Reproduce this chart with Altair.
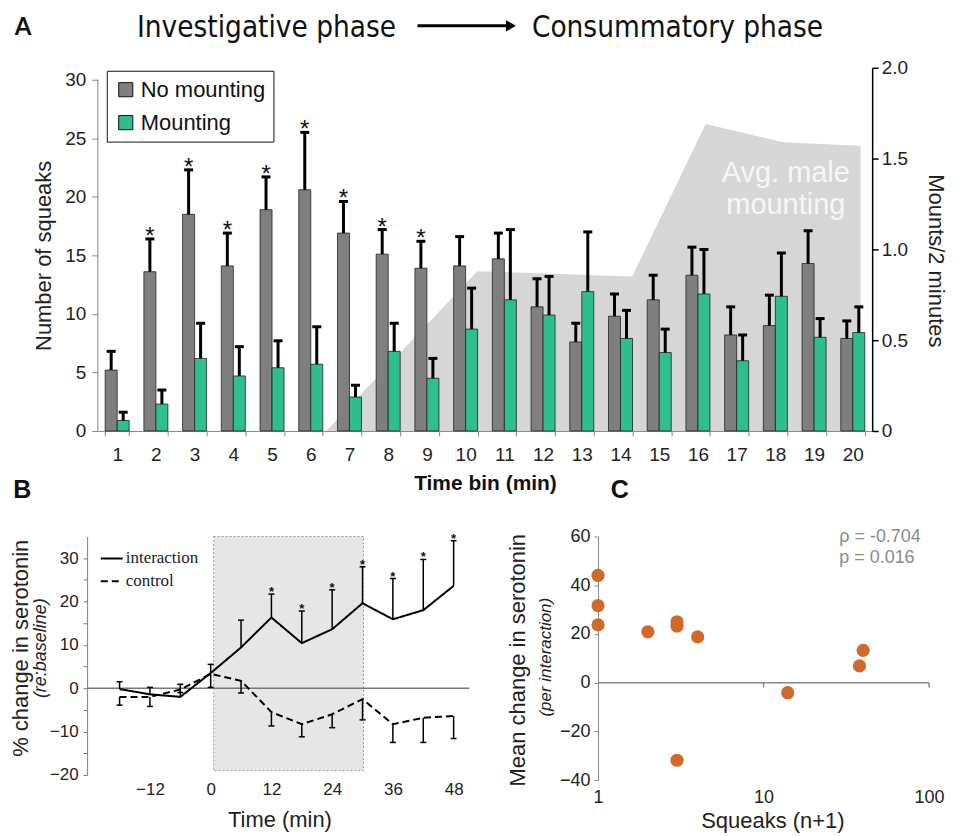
import altair as alt
import pandas as pd

# ---------------- Panel A : squeaks per time bin ----------------
time_bins = list(range(1, 21))
no_mounting = [5.2, 13.6, 18.5, 14.1, 18.9, 20.6, 16.9, 15.1, 13.9, 14.1,
               14.7, 10.6, 7.6, 9.8, 11.2, 13.3, 8.2, 9.0, 14.3, 7.9]
no_mounting_err = [6.8, 16.4, 22.3, 16.9, 21.7, 25.5, 19.6, 17.2, 16.2, 16.6,
                   16.9, 13.0, 9.2, 11.7, 13.3, 15.7, 10.6, 11.6, 17.1, 9.4]
mounting = [0.9, 2.3, 6.2, 4.7, 5.4, 5.7, 2.9, 6.8, 4.5, 8.7,
            11.2, 9.9, 11.9, 7.9, 6.7, 11.7, 6.0, 11.5, 8.0, 8.4]
mounting_err = [1.6, 3.5, 9.2, 7.2, 7.7, 8.9, 3.9, 9.2, 6.2, 12.2,
                17.2, 13.2, 17.0, 10.3, 8.7, 15.5, 8.2, 15.2, 9.6, 10.6]
significant_bins = [2, 3, 4, 5, 6, 7, 8, 9]
groups = ["No mounting", "Mounting"]
group_colors = ["#7f7f7f", "#2fbf8e"]

# average male mounting (right axis, mounts / 2 minutes)
mount_rate_bin = [6.4, 10.3, 14.3, 16.2, 18.2, 20.2]
mount_rate = [0.0, 0.88, 0.85, 1.69, 1.59, 1.57]

# ---------------- Panel B : serotonin over time ----------------
time_min = [-18, -12, -6, 0, 6, 12, 18, 24, 30, 36, 42, 48]
interaction = [-0.2, -1.4, -2.0, 3.5, 9.4, 16.3, 10.4, 13.6, 19.6, 15.9, 18.0, 23.6]
interaction_err = [1.5, 0.2, 0.9, 5.5, 15.7, 21.7, 17.8, 22.7, 28.0, 25.3, 29.7, 34.0]
control = [-2.0, -2.0, -0.3, 3.3, 1.7, -5.5, -8.3, -6.0, -2.5, -8.3, -6.8, -6.4]
control_err = [-3.9, -4.2, -1.0, 0.2, -1.1, -8.7, -11.2, -9.1, -7.3, -12.5, -12.5, -11.6]
significant_times = [12, 18, 24, 30, 36, 42, 48]
interaction_window = [0.6, 30.2]
series_names = ["interaction", "control"]

# ---------------- Panel C : serotonin vs squeaks ----------------
squeaks = [1, 1, 1, 2, 3, 3, 4, 3, 14, 40, 38]
serotonin_change = [44.0, 31.6, 23.7, 20.9, 25.0, 23.2, 18.8, -31.8, -4.1, 13.3, 6.9]

FONT = "Liberation Sans"
TITLE_FONT = "DejaVu Sans Condensed"
TXT = "#222222"

# ======================= Panel A =======================
WA, HA = 776, 364
rowsA = []
for i, b in enumerate(time_bins):
    rowsA.append(dict(bin=b, group=groups[0], value=no_mounting[i],
                      err=no_mounting_err[i], sig=b in significant_bins))
    rowsA.append(dict(bin=b, group=groups[1], value=mounting[i],
                      err=mounting_err[i], sig=False))
dfA = pd.DataFrame(rowsA)

xA = alt.X("bin:O", title="Time bin (min)",
           scale=alt.Scale(paddingInner=0.38, paddingOuter=0.19),
           axis=alt.Axis(labelAngle=0, labelFontSize=19, tickBand="extent", tickSize=5,
                         tickColor="#888", domainColor="#888", labelPadding=10,
                         titleFontSize=21, titleFontWeight="bold", titlePadding=8,
                         labelColor=TXT, titleColor="#111"))
xoffA = alt.XOffset("group:N", sort=groups, scale=alt.Scale(paddingInner=0, paddingOuter=0))
yA_scale = alt.Scale(domain=[0, 31.02], nice=False)
yA_axis = alt.Axis(orient="left", values=[0, 5, 10, 15, 20, 25, 30], domain=False,
                   tickColor="#888", tickSize=6, labelFontSize=19, labelPadding=6,
                   labelColor=TXT, titleFontSize=22, titleFontWeight="normal",
                   titleColor=TXT, titleX=-54, titleY=188, titleBaseline="middle")


def yA(field):
    return alt.Y(field, scale=yA_scale, axis=yA_axis, title="Number of squeaks")


left_line = alt.Chart(pd.DataFrame({"a0": [0], "a1": [30]})).mark_rule(
    color="#888", strokeWidth=1).encode(x=alt.value(0), y=yA("a0:Q"), y2="a1:Q")

bars = alt.Chart(dfA).mark_bar(stroke="#222", strokeWidth=0.8).encode(
    x=xA, xOffset=xoffA, y=yA("value:Q"),
    color=alt.Color("group:N", scale=alt.Scale(domain=groups, range=group_colors),
                    legend=alt.Legend(title=None, orient="none", legendX=9, legendY=3,
                                      symbolType="square", symbolSize=200,
                                      symbolStrokeColor="#111", symbolStrokeWidth=1,
                                      labelFontSize=22, labelFont=FONT, labelColor="#111",
                                      strokeColor="#111", fillColor="white",
                                      padding=8, rowPadding=11, labelOffset=4,
                                      symbolOpacity=1)))
err_rules = alt.Chart(dfA).mark_rule(color="black", strokeWidth=3).encode(
    x=xA, xOffset=xoffA, y=yA("value:Q"), y2="err:Q")
err_caps = alt.Chart(dfA).mark_tick(orient="horizontal", color="black", thickness=3,
                                    size=9, opacity=1).encode(
    x=xA, xOffset=xoffA, y=yA("err:Q"))
stars = alt.Chart(dfA).transform_filter("datum.sig").mark_text(
    text="*", font=FONT, fontSize=24, baseline="alphabetic", dy=5, color="#111").encode(
    x=xA, xOffset=xoffA, y=yA("err:Q"))
bar_layer = alt.layer(left_line, bars, err_rules, err_caps, stars)

xArea = alt.X("pos:Q", scale=alt.Scale(domain=[0.5, 20.5], nice=False, zero=False), axis=None)
yArea_axis = alt.Axis(orient="right", values=[0, 0.5, 1, 1.5, 2],
                      labelExpr="datum.value == 0 ? '0' : format(datum.value, '.1f')",
                      domainColor="black", tickColor="black", domainWidth=1.5, tickWidth=1.5,
                      tickSize=6, labelFontSize=19, labelPadding=3, labelColor=TXT,
                      titleFontSize=22, titleFontWeight="normal", titleColor=TXT,
                      titleAngle=90, titleX=63, titleY=193, titleBaseline="middle")


def yArea(field):
    return alt.Y(field, scale=alt.Scale(domain=[0, 2], nice=False), axis=yArea_axis,
                 title="Mounts/2 minutes")


area = alt.Chart(pd.DataFrame({"pos": mount_rate_bin, "rate": mount_rate})).mark_area(
    color="#d6d6d6", opacity=1, interpolate="linear").encode(x=xArea, y=yArea("rate:Q"))
area_text = alt.Chart(pd.DataFrame({"pos": [18.27], "rate": [1.373]})).mark_text(
    text=["Avg. male", "mounting"], font=FONT, fontSize=29, lineHeight=32,
    color="#f6f6f6", baseline="alphabetic", align="center").encode(
    x=xArea, y=yArea("rate:Q"))
area_layer = alt.layer(area, area_text)

one = pd.DataFrame({"k": [0]})
# invisible layout anchor pinning the page's top-left corner
anchor = alt.Chart(one).mark_rule(strokeOpacity=0, strokeWidth=1).encode(
    x=alt.value(-89.2), x2=alt.value(-80), y=alt.value(-58.5))
labA = alt.Chart(one).mark_text(text="A", font="Lato", fontWeight="bold", fontSize=24,
                                 align="center", baseline="middle", color="#111").encode(
    x=alt.value(-75), y=alt.value(-40))
t1 = alt.Chart(one).mark_text(text="Investigative phase", font=TITLE_FONT, fontSize=29.5,
                              align="left", baseline="alphabetic", color="#111").encode(
    x=alt.value(39.3), y=alt.value(-31))
t2 = alt.Chart(one).mark_text(text="Consummatory phase", font=TITLE_FONT, fontSize=29.5,
                              align="left", baseline="alphabetic", color="#111").encode(
    x=alt.value(435), y=alt.value(-31))
arrow_line = alt.Chart(one).mark_rule(color="black", strokeWidth=3).encode(
    x=alt.value(320.3), x2=alt.value(410), y=alt.value(-42))
arrow_head = alt.Chart(one).mark_point(shape="triangle-right", filled=True, color="black",
                                       size=130, opacity=1).encode(
    x=alt.value(414), y=alt.value(-42))
titles_A = alt.layer(anchor, labA, t1, t2, arrow_line, arrow_head)

chartA = alt.layer(area_layer, bar_layer, titles_A).resolve_scale(
    x="independent", y="independent").properties(width=WA, height=HA)

# ======================= Panel B =======================
WB, HB = 372.3, 239
rowsB = []
for i, t in enumerate(time_min):
    rowsB.append(dict(time=t, series="interaction", value=interaction[i],
                      err=interaction_err[i], sig=t in significant_times))
    rowsB.append(dict(time=t, series="control", value=control[i],
                      err=control_err[i], sig=False))
dfB = pd.DataFrame(rowsB)

xB_scale = alt.Scale(domain=[-22.3, 51.1], nice=False, zero=False)
xB_axis = alt.Axis(values=[-12, 0, 12, 24, 36, 48], domain=False, ticks=False,
                   labelFontSize=17, labelPadding=7, labelColor=TXT, labelFlush=False,
                   titleFontSize=22, titleFontWeight="normal", titleColor=TXT,
                   titleX=182, titleY=45, titleBaseline="middle")
yB_scale = alt.Scale(domain=[-20, 35], nice=False)
yB_axis = alt.Axis(values=list(range(-20, 31, 5)),
                   labelExpr="datum.value % 10 == 0 ? datum.label : ''",
                   offset=10.7, tickSize=4, tickColor="#777", domainColor="#777",
                   labelFontSize=17, labelPadding=5, labelColor=TXT)


def xB(field):
    return alt.X(field, scale=xB_scale, axis=xB_axis, title="Time (min)")


def yB(field):
    return alt.Y(field, scale=yB_scale, axis=yB_axis, title=None)


shade = alt.Chart(pd.DataFrame({"t0": [interaction_window[0]], "t1": [interaction_window[1]],
                                "v0": [-19], "v1": [35]})).mark_rect(
    fill="#e6e6e6", stroke="#9a9a9a", strokeDash=[2, 2], strokeWidth=1).encode(
    x=xB("t0:Q"), x2="t1:Q", y=yB("v0:Q"), y2="v1:Q")
zero_B = alt.Chart(pd.DataFrame({"z": [0]})).mark_rule(color="#777", strokeWidth=1.5).encode(
    y=yB("z:Q"), x=alt.value(-10.7), x2=alt.value(WB))
lines_B = alt.Chart(dfB).mark_line(color="black", strokeWidth=2).encode(
    x=xB("time:Q"), y=yB("value:Q"),
    strokeDash=alt.StrokeDash("series:N",
                              scale=alt.Scale(domain=series_names, range=[[1, 0], [7, 4]]),
                              legend=alt.Legend(title=None, orient="none", legendX=2, legendY=10,
                                                symbolType="stroke", symbolSize=484,
                                                symbolStrokeWidth=2, symbolStrokeColor="black",
                                                labelFont="Liberation Serif", labelFontSize=17,
                                                labelColor="#222", rowPadding=3, labelOffset=2,
                                                padding=0)))
err_B = alt.Chart(dfB).mark_rule(color="black", strokeWidth=1.5).encode(
    x=xB("time:Q"), y=yB("value:Q"), y2="err:Q")
caps_B = alt.Chart(dfB).mark_tick(orient="horizontal", color="black", thickness=1.5,
                                  size=6, opacity=1).encode(x=xB("time:Q"), y=yB("err:Q"))
stars_B = alt.Chart(dfB).transform_filter("datum.sig").mark_text(
    text="*", font=FONT, fontSize=13, fontWeight="bold", baseline="alphabetic", dy=2,
    color="#111").encode(x=xB("time:Q"), y=yB("err:Q"))
labB = alt.Chart(one).mark_text(text="B", font=FONT, fontWeight="bold", fontSize=25,
                                 align="center", baseline="middle", color="#111").encode(
    x=alt.value(-75.7), y=alt.value(-46.7))
ytB1 = alt.Chart(one).mark_text(text="% change in serotonin", font=FONT, fontSize=22,
                                angle=270, align="center", baseline="middle", color=TXT).encode(
    x=alt.value(-76.5), y=alt.value(112))
ytB2 = alt.Chart(one).mark_text(text="(re:baseline)", font=FONT, fontSize=18, fontStyle="italic",
                                angle=270, align="center", baseline="middle", color=TXT).encode(
    x=alt.value(-56.7), y=alt.value(112))

chartB = alt.layer(shade, zero_B, lines_B, err_B, caps_B, stars_B, labB, ytB1, ytB2).properties(
    width=WB, height=HB)

# ======================= Panel C =======================
WC, HC = 331.7, 244.3
dfC = pd.DataFrame({"squeaks": squeaks, "change": serotonin_change})
xC_scale = alt.Scale(type="log", domain=[1, 100], nice=False)
xC_axis = alt.Axis(values=[1, 10, 100], format="d", domain=False, ticks=False,
                   labelFontSize=18, labelPadding=8, labelColor=TXT, labelFlush=False,
                   titleFontSize=22, titleFontWeight="normal", titleColor=TXT,
                   titleX=174.7, titleY=40, titleBaseline="middle")
yC_scale = alt.Scale(domain=[-40, 60], nice=False)
yC_axis = alt.Axis(values=[-40, -20, 0, 20, 40, 60], tickSize=4, tickColor="#888",
                   domainColor="#888", labelFontSize=18, labelPadding=4, labelColor=TXT)


def xC(field):
    return alt.X(field, scale=xC_scale, axis=xC_axis, title="Squeaks (n+1)")


def yC(field):
    return alt.Y(field, scale=yC_scale, axis=yC_axis, title=None)


zero_C = alt.Chart(pd.DataFrame({"x0": [1], "x1": [100], "z": [0]})).mark_rule(
    color="#888", strokeWidth=1.5).encode(x=xC("x0:Q"), x2="x1:Q", y=yC("z:Q"))
ticks_C = alt.Chart(pd.DataFrame({"x0": [10, 100], "z": [0, 0], "z2": [-2, -2]})).mark_rule(
    color="#888", strokeWidth=1.5).encode(x=xC("x0:Q"), y=yC("z:Q"), y2="z2:Q")
pts_C = alt.Chart(dfC).mark_circle(size=175, color="#cf6a2a", opacity=1).encode(
    x=xC("squeaks:Q"), y=yC("change:Q"))
rho = alt.Chart(one).mark_text(text="\u03c1 = -0.704", font=FONT, fontSize=18, color="#8a8a8a",
                               align="left", baseline="middle").encode(
    x=alt.value(241.7), y=alt.value(0.5))
pval = alt.Chart(one).mark_text(text="p = 0.016", font=FONT, fontSize=18, color="#8a8a8a",
                                align="left", baseline="middle").encode(
    x=alt.value(241.7), y=alt.value(21.5))
labC = alt.Chart(one).mark_text(text="C", font=FONT, fontWeight="bold", fontSize=25,
                                 align="center", baseline="middle", color="#111").encode(
    x=alt.value(21.7), y=alt.value(-46.7))
ytC1 = alt.Chart(one).mark_text(text="Mean change in serotonin", font=FONT, fontSize=22,
                                angle=270, align="center", baseline="middle", color=TXT).encode(
    x=alt.value(-80.3), y=alt.value(124))
ytC2 = alt.Chart(one).mark_text(text="(per interaction)", font=FONT, fontSize=17, fontStyle="italic",
                                angle=270, align="center", baseline="middle", color=TXT).encode(
    x=alt.value(-52.3), y=alt.value(121))

chartC = alt.layer(zero_C, ticks_C, pts_C, rho, pval, labC, ytC1, ytC2).properties(
    width=WC, height=HC)

# ======================= Layout =======================
bottom_row = alt.hconcat(chartB, chartC, spacing=128.3, bounds="flush")
chart = alt.vconcat(chartA, bottom_row, spacing=105.7, bounds="flush").resolve_scale(
    color="independent", strokeDash="independent").resolve_legend(
    color="independent", strokeDash="independent").properties(
    padding={"left": 0, "top": 0, "right": 4, "bottom": 4}, background="white").configure(
    font=FONT).configure_axis(grid=False).configure_view(stroke=None)

chart.save("out.html", embed_options={"renderer": "svg", "actions": False})
